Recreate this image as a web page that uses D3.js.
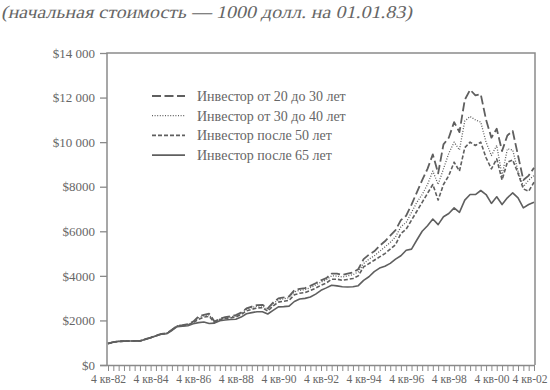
<!DOCTYPE html>
<html>
<head>
<meta charset="utf-8">
<script src="https://cdnjs.cloudflare.com/ajax/libs/d3/7.8.5/d3.min.js"></script>
<style>
  body { margin: 0; background: #fff; }
  text { font-family: "Liberation Serif", "DejaVu Serif", serif; fill: #666; }
</style>
</head>
<body>
<div id="chart"></div>
<script>
// quarters from 4 кв-82 to 4 кв-02
var tickLabels = ["4 кв-82", "4 кв-84", "4 кв-86", "4 кв-88", "4 кв-90", "4 кв-92",
  "4 кв-94", "4 кв-96", "4 кв-98", "4 кв-00", "4 кв-02"];
var yTicks = [0, 2000, 4000, 6000, 8000, 10000, 12000, 14000];
var yTickLabels = ["$0", "$2000", "$4000", "$6000", "$8000", "$10 000", "$12 000", "$14 000"];
var seriesNames = ["Инвестор от 20 до 30 лет", "Инвестор от 30 до 40 лет",
  "Инвестор после 50 лет", "Инвестор после 65 лет"];

var inv20 = [960, 1030, 1060, 1070, 1075, 1080, 1080, 1160, 1230, 1320, 1400, 1420, 1580, 1760, 1790, 1830,
  1950, 2170, 2250, 2300, 1950, 2080, 2150, 2180, 2240, 2350, 2540, 2620, 2690, 2700, 2540, 2800,
  2990, 3030, 3080, 3350, 3420, 3450, 3550, 3670, 3800, 3900, 4100, 4100, 4050, 4100, 4150, 4300,
  4750, 4950, 5100, 5350, 5550, 5800, 6050, 6500, 6700, 7200, 7750, 8300, 8800, 9450, 8600, 9900,
  10200, 10900, 10450, 11900, 12350, 12100, 12150, 11000, 10200, 10600, 9600, 10300, 10500, 9400, 8300, 8500,
  8850];
var inv30 = [960, 1030, 1060, 1070, 1075, 1080, 1080, 1158, 1228, 1315, 1395, 1415, 1575, 1750, 1780, 1815,
  1930, 2120, 2210, 2250, 1930, 2060, 2130, 2150, 2210, 2320, 2500, 2580, 2640, 2650, 2500, 2750,
  2930, 2970, 3020, 3280, 3350, 3380, 3470, 3590, 3720, 3820, 4000, 3990, 3950, 4000, 4050, 4180,
  4550, 4750, 4900, 5100, 5300, 5500, 5750, 6200, 6400, 6850, 7300, 7650, 8100, 8700, 8100, 8800,
  9500, 10000, 9650, 10950, 11150, 11000, 10900, 10000, 9400, 9850, 8500, 9700, 9650, 8700, 8000, 8300,
  8500];
var inv50 = [960, 1030, 1060, 1070, 1075, 1080, 1078, 1155, 1225, 1310, 1390, 1410, 1565, 1740, 1765, 1795,
  1900, 2050, 2150, 2180, 1900, 2030, 2090, 2110, 2160, 2260, 2430, 2500, 2560, 2570, 2420, 2650,
  2820, 2860, 2900, 3150, 3220, 3250, 3340, 3450, 3580, 3680, 3850, 3850, 3800, 3840, 3880, 4000,
  4400, 4550, 4700, 4850, 5000, 5200, 5400, 5900, 6100, 6500, 6900, 7300, 7700, 8100, 7400, 8100,
  8500, 9100, 8700, 9750, 10000, 9850, 10000, 9300, 8800, 9250, 8300, 9100, 9200, 8600, 7900, 7800,
  8200];
var inv65 = [960, 1030, 1060, 1070, 1075, 1080, 1075, 1150, 1220, 1300, 1380, 1400, 1550, 1720, 1740, 1760,
  1850, 1900, 1930, 1860, 1880, 1990, 2020, 2040, 2050, 2150, 2300, 2350, 2390, 2390, 2290, 2450,
  2610, 2620, 2640, 2850, 2960, 2990, 3050, 3180, 3350, 3460, 3580, 3550, 3510, 3500, 3510, 3560,
  3800, 3960, 4190, 4350, 4430, 4560, 4750, 4900, 5150, 5200, 5610, 6000, 6250, 6550, 6300, 6650,
  6800, 7050, 6850, 7400, 7650, 7650, 7830, 7650, 7250, 7550, 7200, 7500, 7720, 7500, 7050, 7200,
  7300];

var w = 550, h = 390;
var mLeft = 107, mRight = 535, mTop = 53, mBottom = 365;

var series = [
  { name: seriesNames[0], values: inv20, dash: "9,3.5", width: 1.8 },
  { name: seriesNames[1], values: inv30, dash: "1,1.6", width: 1.3 },
  { name: seriesNames[2], values: inv50, dash: "4,2", width: 1.6 },
  { name: seriesNames[3], values: inv65, dash: null, width: 1.6 }
];

var svg = d3.select("#chart").append("svg")
  .attr("width", w)
  .attr("height", h);

var x = d3.scaleLinear().domain([0, inv65.length - 1]).range([mLeft + 1, mRight - 1]);
var y = d3.scaleLinear().domain([0, 14000]).range([mBottom, mTop]);

// title, serif slanted by hand (no serif italic face installed)
svg.append("text")
  .attr("transform", "translate(1,18) skewX(-13)")
  .attr("textLength", 411)
  .attr("lengthAdjust", "spacingAndGlyphs")
  .style("font-size", "18px")
  .text("(начальная стоимость — 1000 долл. на 01.01.83)");

// frame
svg.append("path")
  .attr("d", "M" + mLeft + "," + mBottom + "V" + mTop + "H" + mRight + "V" + mBottom)
  .attr("fill", "none")
  .attr("stroke", "#8a8a8a")
  .attr("stroke-width", 1.5);

// y axis
var yAxis = d3.axisLeft(y)
  .tickValues(yTicks)
  .tickSize(7)
  .tickPadding(5)
  .tickFormat(function(d, i) { return yTickLabels[i]; });

var gy = svg.append("g")
  .attr("transform", "translate(" + mLeft + ",0)")
  .call(yAxis);
gy.select(".domain").remove();
gy.selectAll("line").attr("stroke", "#8a8a8a").attr("stroke-width", 1.3);
gy.selectAll("text").style("font-size", "13px").attr("fill", "#666");

// x axis
var xAxis = d3.axisBottom(x)
  .tickValues(d3.range(inv65.length))
  .tickSize(6)
  .tickPadding(3)
  .tickFormat(function(d) { return d % 8 == 0 ? tickLabels[d / 8] : ""; });

var gx = svg.append("g")
  .attr("transform", "translate(0," + mBottom + ")")
  .call(xAxis);
gx.select(".domain")
  .attr("d", "M" + (mLeft - 7) + ",0.5H" + mRight)
  .attr("stroke", "#8a8a8a")
  .attr("stroke-width", 1.5);
gx.selectAll("line").attr("stroke", "#8a8a8a").attr("stroke-width", 1);
gx.selectAll("text")
  .style("font-size", "12.5px")
  .attr("fill", "#666")
  .filter(function(d) { return d % 8 == 0; })
  .attr("textLength", 35)
  .attr("lengthAdjust", "spacingAndGlyphs");

// last label would run off the page, pull it inside
gx.selectAll("text")
  .filter(function(d) { return d == inv65.length - 1; })
  .attr("text-anchor", "end")
  .attr("x", 13);

var line = d3.line()
  .x(function(d, i) { return x(i); })
  .y(function(d) { return y(d); });

svg.selectAll(".series")
  .data(series)
.enter().append("path")
  .attr("class", "series")
  .attr("fill", "none")
  .attr("stroke", "#5f5f5f")
  .attr("stroke-width", function(d) { return d.width; })
  .attr("stroke-dasharray", function(d) { return d.dash; })
  .attr("stroke-linejoin", "round")
  .attr("d", function(d) { return line(d.values); });

// legend
var lg = svg.selectAll(".legend")
  .data(series)
.enter().append("g")
  .attr("class", "legend")
  .attr("transform", function(d, i) { return "translate(152," + (96 + i * 19.7) + ")"; });

lg.append("line")
  .attr("x1", 0)
  .attr("x2", 33)
  .attr("stroke", "#5f5f5f")
  .attr("stroke-width", function(d) { return d.width; })
  .attr("stroke-dasharray", function(d) { return d.dash; });

lg.append("text")
  .attr("x", 45)
  .attr("dy", ".35em")
  .style("font-size", "14px")
  .text(function(d) { return d.name; });
</script>
</body>
</html>
